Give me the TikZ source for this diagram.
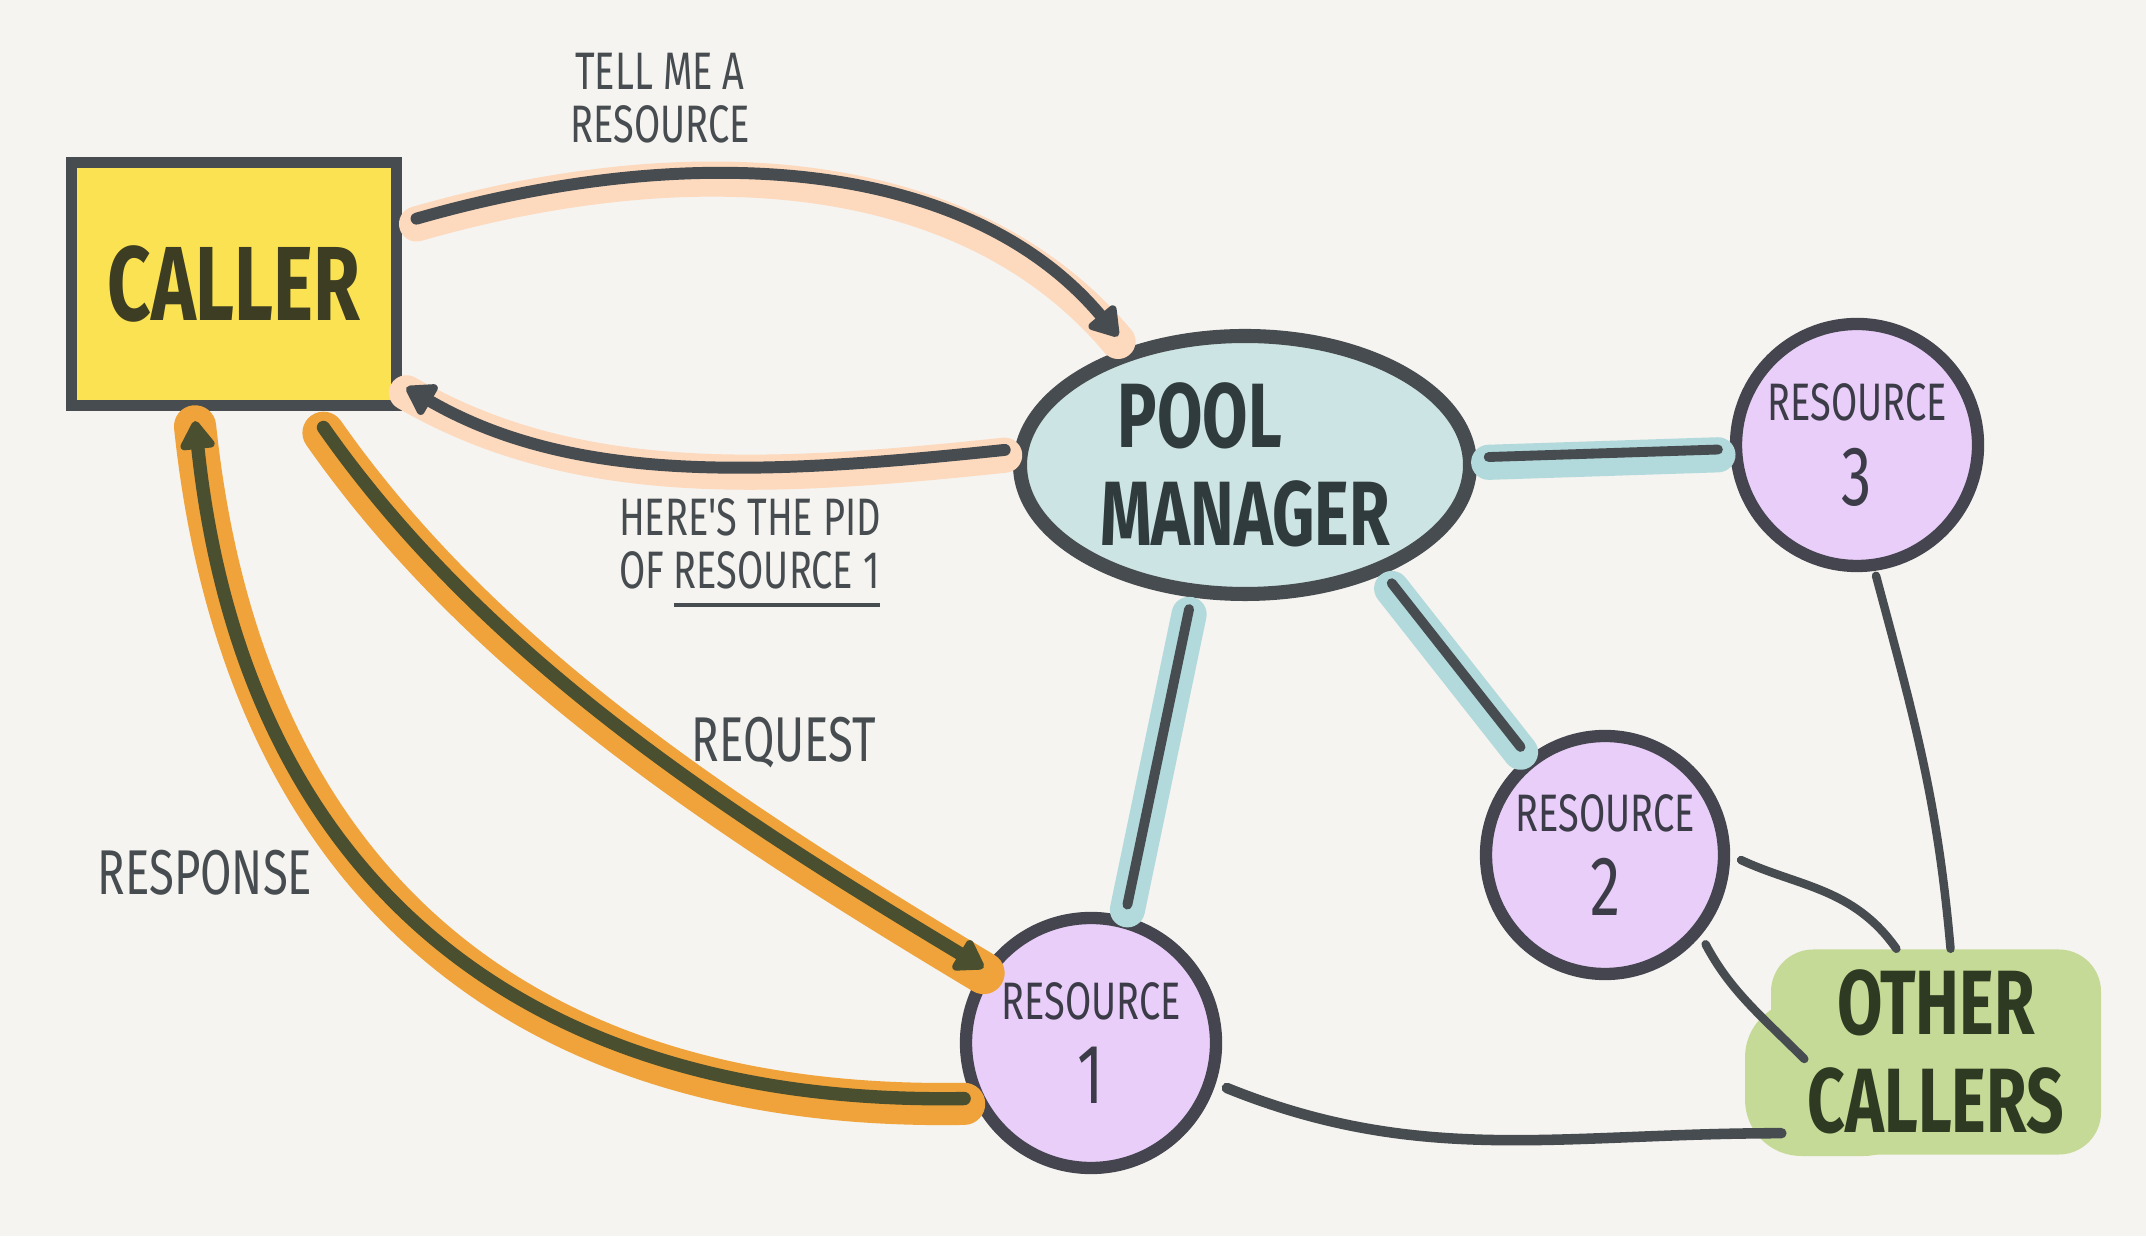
\documentclass[tikz,border=0pt]{standalone}
\usepackage{fontspec}
\newfontfamily\handfont{Fira Sans}[FakeStretch=0.72]
\usetikzlibrary{arrows.meta,shapes.geometric}
\definecolor{papercol}{HTML}{F5F4F0}
\definecolor{inkcol}{HTML}{464C4F}
\definecolor{olivecol}{HTML}{4A4F30}
\definecolor{callercol}{HTML}{FBE252}
\definecolor{callerink}{HTML}{3C3D22}
\definecolor{poolcol}{HTML}{CDE4E4}
\definecolor{poolink}{HTML}{2F3B3D}
\definecolor{rescol}{HTML}{E8CEF8}
\definecolor{resline}{HTML}{45454F}
\definecolor{resink}{HTML}{3C3C48}
\definecolor{othercol}{HTML}{C6DA97}
\definecolor{otherink}{HTML}{2F3A22}
\definecolor{peachcol}{HTML}{FDD9BE}
\definecolor{orangecol}{HTML}{F0A33B}
\definecolor{tealcol}{HTML}{B2D9DB}
\newcommand{\pidline}[1]{\vtop{\hbox{#1}\kern4pt\hrule height 1.2pt}}

\begin{document}
\begin{tikzpicture}[
  callerbox/.style={rectangle, draw=inkcol, fill=callercol, line width=3.2pt,
    minimum width=3.25cm, minimum height=2.43cm, text=callerink,
    font=\handfont\bfseries\fontsize{30}{30}\selectfont},
  pool/.style={ellipse, draw=inkcol, fill=poolcol, line width=4pt, inner sep=0pt,
    minimum width=4.5cm, minimum height=2.58cm, align=center, text=poolink,
    font=\handfont\bfseries\fontsize{26}{28}\selectfont},
  res/.style={circle, draw=resline, fill=rescol, line width=3.5pt, inner sep=1pt,
    minimum size=#1, align=center, text=resink,
    font=\handfont\fontsize{15}{18}\selectfont},
  others/.style={rectangle, fill=othercol, rounded corners=12pt, minimum width=3.3cm,
    minimum height=2.05cm, align=center, text=otherink,
    font=\handfont\bfseries\fontsize{26}{28}\selectfont},
  lbl/.style={font=\handfont\fontsize{#1}{#1}\selectfont, text=inkcol, align=center},
  halo/.style 2 args={preaction={draw=#1, line width=#2, line cap=round, -,
    transform canvas={yshift=-1.5pt}}},
  msg/.style={draw=inkcol, line width=3.4pt, line cap=round,
    -{Triangle[length=9pt,width=11pt,round]}, halo={peachcol}{10pt}},
  call/.style={draw=olivecol, line width=3.8pt, line cap=round,
    -{Triangle[length=9pt,width=11pt,round]}, halo={orangecol}{12pt}},
  link/.style={draw=inkcol, line width=2.8pt, line cap=round, halo={tealcol}{10pt},
    shorten <=0.12cm, shorten >=0.12cm},
  wire/.style={draw=inkcol, line width=2.4pt, line cap=round},
]
\useasboundingbox (0,0) rectangle (21.46,12.36);
\fill[papercol] (0,0) rectangle (21.46,12.36);

% nodes
\node[callerbox] (caller) at (2.34,9.52) {CALLER};
\node[pool] (pm) at (12.45,7.71) {POOL\hspace*{0.9cm}\\MANAGER};
\node[res=2.42cm] (r3) at (18.57,7.91) {RESOURCE\\[6pt]{\fontsize{24}{24}\selectfont 3}};
\node[res=2.38cm] (r2) at (16.05,3.81) {RESOURCE\\[6pt]{\fontsize{24}{24}\selectfont 2}};
\node[res=2.5cm]  (r1) at (10.91,1.93) {RESOURCE\\[6pt]{\fontsize{24}{24}\selectfont 1}};
\fill[othercol, rounded corners=16pt] (17.45,0.8) rectangle (19.2,2.35);
\node[others] (oc) at (19.36,1.84) {OTHER\\CALLERS};

% labels
\node[lbl=15] (tell) at (6.6,11.38) {TELL ME A\\RESOURCE};
\node[lbl=15, align=left] (pid) at (7.5,6.83) {HERE'S THE PID\\OF \pidline{RESOURCE 1}};
\node[lbl=18] (req) at (7.84,4.93) {REQUEST};
\node[lbl=18] (resp) at (2.05,3.63) {RESPONSE};

% messages between caller and pool manager
\draw[msg, shorten <=0.15cm, shorten >=0.15cm]
  (caller.20) .. controls +(16:3) and +(130:2.5) .. (pm.135);
\draw[msg, shorten <=0.1cm, shorten >=0.05cm]
  (pm.176) .. controls +(186:2.5) and +(-30:2) .. (caller.-31);

% request / response with resource 1
\draw[call, shorten <=0.2cm]
  ([xshift=0.78cm]caller.south) .. controls +(-55:3) and +(149:3) .. (r1.145);
\draw[call, shorten <=0.08cm, shorten >=0.1cm]
  (r1.205) .. controls +(181:4.6) and +(-84:4.6) .. ([xshift=-0.4cm]caller.south);

% pool manager links
\draw[link] (pm) -- (r3);
\draw[link] (pm.-112) -- (r1.75);
\draw[link] (pm.-38) -- (r2.128);

% other callers
\draw[wire, shorten <=0.05cm] (r3.-82) to[out=-75,in=95] (oc.82);
\draw[wire, shorten <=0.12cm] (r2.east) to[out=-25,in=125] (oc.111);
\draw[wire, shorten <=0.1cm] (r2.-40) to[out=-62,in=135] ([xshift=0.34cm,yshift=-0.07cm]oc.west);
\draw[wire, line width=3pt, shorten <=0.12cm]
  (r1.-18) to[out=-22,in=180] ([xshift=0.11cm,yshift=0.22cm]oc.south west);
\end{tikzpicture}
\end{document}
